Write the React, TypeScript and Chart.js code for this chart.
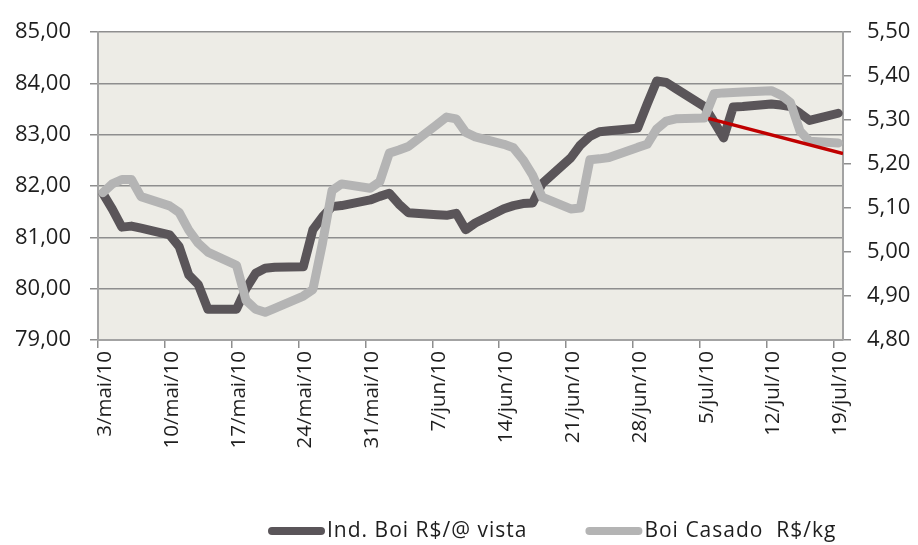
import React, { useEffect, useRef } from 'react';
import { Chart, registerables } from 'chart.js';

Chart.register(...registerables);

// Business days (ISO dates)
const dates = [
  '2010-05-03', '2010-05-04', '2010-05-05', '2010-05-06', '2010-05-07',
  '2010-05-10', '2010-05-11', '2010-05-12', '2010-05-13', '2010-05-14',
  '2010-05-17', '2010-05-18', '2010-05-19', '2010-05-20', '2010-05-21',
  '2010-05-24', '2010-05-25', '2010-05-26', '2010-05-27', '2010-05-28',
  '2010-05-31', '2010-06-01', '2010-06-02', '2010-06-03', '2010-06-04',
  '2010-06-07', '2010-06-08', '2010-06-09', '2010-06-10', '2010-06-11',
  '2010-06-14', '2010-06-15', '2010-06-16', '2010-06-17', '2010-06-18',
  '2010-06-21', '2010-06-22', '2010-06-23', '2010-06-24', '2010-06-25',
  '2010-06-28', '2010-06-29', '2010-06-30', '2010-07-01', '2010-07-02',
  '2010-07-05', '2010-07-06', '2010-07-07', '2010-07-08', '2010-07-09',
  '2010-07-12', '2010-07-13', '2010-07-14', '2010-07-15', '2010-07-16',
  '2010-07-19',
];

// Ind. Boi R$/@ vista (left axis)
const indBoiVista = [
  81.86, 81.55, 81.2, 81.22, 81.18,
  81.05, 80.82, 80.27, 80.08, 79.6,
  79.6, 80.0, 80.3, 80.4, 80.42,
  80.43, 81.15, 81.4, 81.6, 81.62,
  81.73, 81.8, 81.86, 81.65, 81.48,
  81.44, 81.43, 81.47, 81.15, 81.28,
  81.56, 81.62, 81.66, 81.67, 82.05,
  82.55, 82.8, 82.97, 83.06, 83.08,
  83.13, 83.6, 84.05, 84.02, 83.9,
  83.55, 83.25, 82.94, 83.54, 83.55,
  83.6, 83.58, 83.55, 83.42, 83.28,
  83.42,
];

// Boi Casado R$/kg (right axis)
const boiCasado = [
  5.135, 5.155, 5.165, 5.165, 5.126,
  5.105, 5.09, 5.05, 5.02, 5.0,
  4.97, 4.89, 4.87, 4.863, 4.872,
  4.9, 4.915, 5.02, 5.14, 5.155,
  5.145, 5.16, 5.225, 5.232, 5.24,
  5.29, 5.307, 5.303, 5.272, 5.262,
  5.245, 5.237, 5.21, 5.175, 5.125,
  5.098, 5.1, 5.21, 5.212, 5.215,
  5.238, 5.245, 5.28, 5.298, 5.303,
  5.305, 5.36, 5.362, 5.363, 5.364,
  5.367, 5.357, 5.34, 5.275, 5.252,
  5.248,
];

// Trend line (right axis): day offsets and values
const trendDays = [63.4, 77.5];
const trendValues = [5.304, 5.224];

const tickLabels = [
  '3/mai/10', '10/mai/10', '17/mai/10', '24/mai/10', '31/mai/10', '7/jun/10',
  '14/jun/10', '21/jun/10', '28/jun/10', '5/jul/10', '12/jul/10', '19/jul/10',
];

const seriesNames = ['Ind. Boi R$/@ vista', 'Boi Casado  R$/kg'];

const START = Date.parse('2010-05-03T00:00:00Z');
const dayOffset = (s: string) => (Date.parse(s + 'T00:00:00Z') - START) / 86400000;

const DARK = '#5a5559';
const LIGHT = '#b4b4b4';
const RED = '#c00000';
const GRID = '#8e8e8e';
const AXIS = '#a3a3a3';
const TEXT = '#1e1e1e';
const FONT = "'Open Sans', 'Noto Sans', sans-serif";

const fmt = (v: number) => Number(v).toFixed(2).replace('.', ',');

const plotBg = {
  id: 'plotBg',
  beforeDraw(chart: any) {
    const { ctx, chartArea } = chart;
    ctx.save();
    ctx.fillStyle = '#edece6';
    ctx.fillRect(chartArea.left, chartArea.top, chartArea.right - chartArea.left, chartArea.bottom - chartArea.top);
    ctx.restore();
  },
};

const customLegend = {
  id: 'customLegend',
  afterDraw(chart: any) {
    const { ctx } = chart;
    const ds = chart.data.datasets;
    ctx.save();
    ctx.font = `21px ${FONT}`;
    (ctx as any).letterSpacing = '1px';
    ctx.textBaseline = 'middle';
    ctx.textAlign = 'left';
    let x = 268;
    const y = 531;
    for (let i = 0; i < 2; i++) {
      const color = ds[i].borderColor;
      ctx.strokeStyle = color;
      ctx.lineWidth = 8;
      ctx.lineCap = 'round';
      ctx.beginPath();
      ctx.moveTo(x + 4, y);
      ctx.lineTo(x + 53, y);
      ctx.stroke();
      ctx.fillStyle = TEXT;
      const label = ds[i].label;
      ctx.fillText(label, x + 59, y);
      x += 59 + ctx.measureText(label).width + 58;
    }
    ctx.restore();
  },
};

export default function App() {
  const ref = useRef<HTMLCanvasElement>(null);

  useEffect(() => {
    document.body.style.margin = '0';
    const canvas = ref.current;
    if (!canvas) return;
    const xs = dates.map(dayOffset);
    const chart = new Chart(canvas, {
      type: 'line',
      data: {
        datasets: [
          {
            label: seriesNames[0],
            data: xs.map((x, i) => ({ x, y: indBoiVista[i] })),
            borderColor: DARK,
            backgroundColor: DARK,
            borderWidth: 9,
            pointRadius: 0,
            borderCapStyle: 'round',
            borderJoinStyle: 'round',
            tension: 0,
            yAxisID: 'y',
            order: 3,
          },
          {
            label: seriesNames[1],
            data: xs.map((x, i) => ({ x, y: boiCasado[i] })),
            borderColor: LIGHT,
            backgroundColor: LIGHT,
            borderWidth: 9,
            pointRadius: 0,
            borderCapStyle: 'round',
            borderJoinStyle: 'round',
            tension: 0,
            yAxisID: 'y1',
            order: 2,
          },
          {
            label: 'trend',
            data: trendDays.map((x, i) => ({ x, y: trendValues[i] })),
            borderColor: RED,
            backgroundColor: RED,
            borderWidth: 3.5,
            pointRadius: 0,
            tension: 0,
            yAxisID: 'y1',
            order: 1,
          },
        ],
      },
      options: {
        animation: false,
        responsive: false,
        devicePixelRatio: 1,
        layout: { padding: { top: 25, left: 0, right: 0, bottom: 0 } },
        plugins: {
          legend: { display: false },
          tooltip: { enabled: false },
        },
        scales: {
          x: {
            type: 'linear',
            min: -0.5,
            max: 77.5,
            afterBuildTicks: (s: any) => {
              s.ticks = tickLabels.map((_, i) => ({ value: -0.5 + 7 * i }));
            },
            afterFit: (s: any) => {
              s.height = 205;
            },
            ticks: {
              autoSkip: false,
              minRotation: 90,
              maxRotation: 90,
              padding: 3,
              labelOffset: 7,
              color: TEXT,
              font: { family: FONT, size: 20.5 },
              callback: (_v: any, i: number) => tickLabels[i],
            },
            grid: { drawOnChartArea: false, drawTicks: true, tickLength: 8, color: GRID, lineWidth: 1.5 },
            border: { color: AXIS, width: 2 },
          },
          y: {
            type: 'linear',
            position: 'left',
            min: 79,
            max: 85,
            afterFit: (s: any) => {
              s.width = 98;
            },
            ticks: {
              stepSize: 1,
              padding: 19,
              color: TEXT,
              font: { family: FONT, size: 22 },
              callback: (v: any) => fmt(v),
            },
            grid: { color: GRID, lineWidth: 1.5, tickLength: 8 },
            border: { color: AXIS, width: 2 },
          },
          y1: {
            type: 'linear',
            position: 'right',
            min: 4.8,
            max: 5.5,
            afterFit: (s: any) => {
              s.width = 75;
            },
            ticks: {
              stepSize: 0.1,
              padding: 16,
              color: TEXT,
              font: { family: FONT, size: 22 },
              callback: (v: any) => fmt(v),
            },
            grid: { drawOnChartArea: false, drawTicks: true, tickLength: 8, color: GRID, lineWidth: 1.5 },
            border: { color: AXIS, width: 2 },
          },
        },
      },
      plugins: [plotBg, customLegend],
    } as any);
    return () => chart.destroy();
  }, []);

  return (
    <div style={{ width: 918, height: 545 }}>
      <canvas ref={ref} width={918} height={545} style={{ display: 'block' }} />
    </div>
  );
}
